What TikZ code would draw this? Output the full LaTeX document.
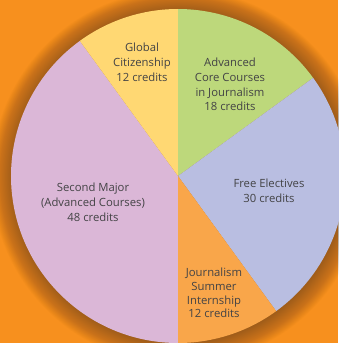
\documentclass[tikz,border=0pt]{standalone}
\usepackage{fontspec}
\setmainfont{Open Sans}
\definecolor{bgorange}{HTML}{F7901E}
\definecolor{cyellow}{HTML}{FFD873}
\definecolor{cgreen}{HTML}{BDD87B}
\definecolor{cblue}{HTML}{B9BEE1}
\definecolor{corange}{HTML}{F9A64A}
\definecolor{cpink}{HTML}{DBB7D7}
\definecolor{labelgray}{HTML}{434345}
\begin{document}
\begin{tikzpicture}[
x=1pt, y=1pt,
lbl/.style = {align=center, text=labelgray, inner sep=0pt,
              font=\fontsize{11.3}{14.8}\selectfont}
                        ]
\useasboundingbox (-178,-167) rectangle (160,176);
\fill[bgorange] (-178,-167) rectangle (160,176);
%
    \foreach \r in {1,...,36}
{
    \fill[black!60!brown, opacity=0.017] (1,-1) circle (166+0.6*\r);
}
%
\fill[cgreen]  (0,0) -- (90:167)  arc[start angle=90,  end angle=36,   radius=167] -- cycle;
\fill[cblue]   (0,0) -- (36:167)  arc[start angle=36,  end angle=-54,  radius=167] -- cycle;
\fill[corange] (0,0) -- (-54:167) arc[start angle=-54, end angle=-90,  radius=167] -- cycle;
\fill[cpink]   (0,0) -- (-90:167) arc[start angle=-90, end angle=-234, radius=167] -- cycle;
\fill[cyellow] (0,0) -- (126:167) arc[start angle=126, end angle=90,   radius=167] -- cycle;
%
    \node[lbl] (global)   at (-36,114)  {Global\\Citizenship\\12 credits};
    \node[lbl] (core)     at (52,91.5)  {Advanced\\Core Courses\\in Journalism\\18 credits};
    \node[lbl] (free)     at (91,-14.5) {Free Electives\\30 credits};
    \node[lbl, font=\fontsize{11.3}{13.7}\selectfont]
               (intern)   at (36,-117)  {Journalism\\Summer\\Internship\\12 credits};
    \node[lbl] (second)   at (-85,-26)  {Second Major\\(Advanced Courses)\\48 credits};

\end{tikzpicture}
\end{document}
